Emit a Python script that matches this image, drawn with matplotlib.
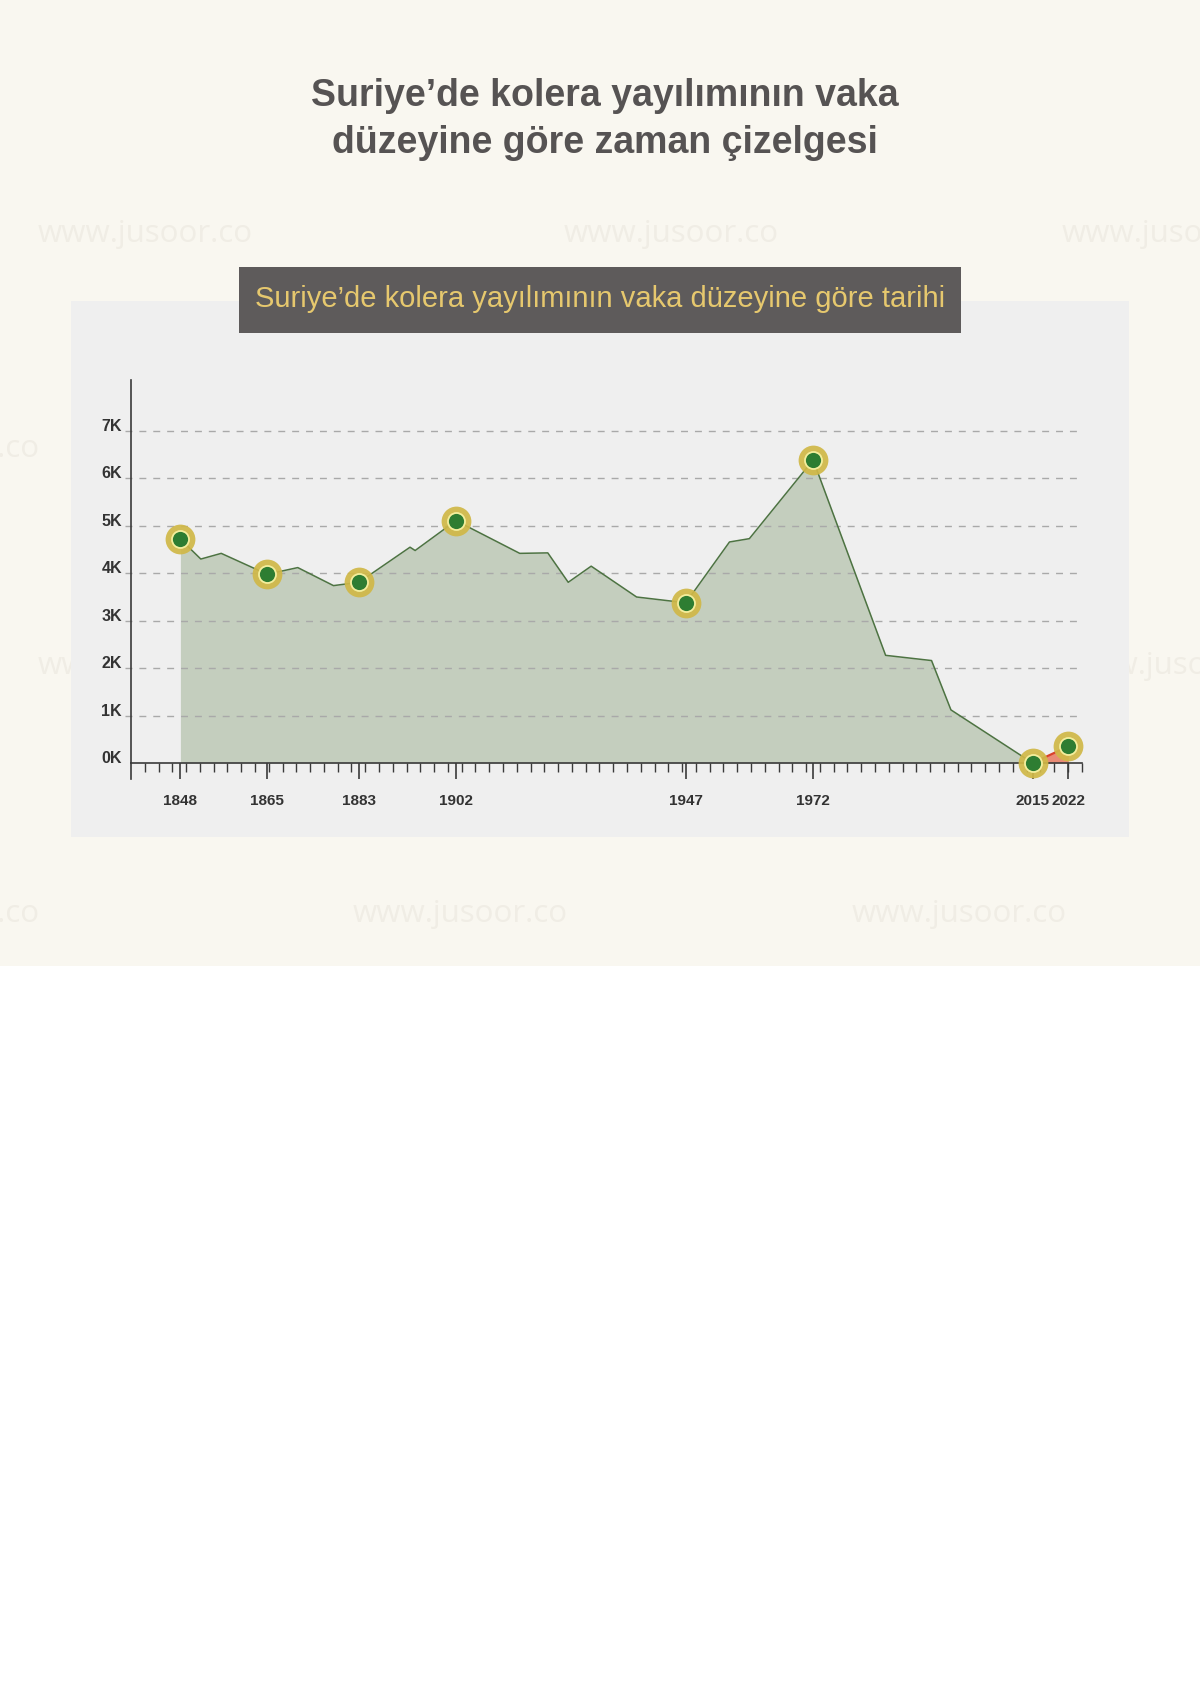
import numpy as np
import matplotlib
matplotlib.use("Agg")
import matplotlib.pyplot as plt
from matplotlib.patches import Rectangle

plt.rcParams['font.family'] = ['Liberation Sans', 'DejaVu Sans']

# ---------------- data ----------------
title = "Suriye’de kolera yayılımının vaka\ndüzeyine göre zaman çizelgesi"
subtitle = "Suriye’de kolera yayılımının vaka düzeyine göre tarihi"

hist_years = [1848, 1852, 1856, 1865, 1871, 1878, 1883, 1893, 1894, 1902,
              1914.5, 1920, 1924, 1928.5, 1937.4, 1945.3, 1947, 1955.6,
              1959.5, 1972, 1986.2, 1995.2, 1999, 2015]
hist_values = [4720, 4300, 4420, 3980, 4120, 3740, 3810, 4550, 4480, 5110,
               4420, 4430, 3810, 4150, 3500, 3400, 3370, 4660,
               4730, 6390, 2270, 2160, 1120, 0]

recent_years = [2015, 2022]
recent_values = [0, 350]

marker_years = [1848, 1865, 1883, 1902, 1947, 1972, 2015, 2022]
marker_values = [4720, 3980, 3810, 5110, 3370, 6390, 0, 350]

xtick_years = [1848, 1865, 1883, 1902, 1947, 1972, 2015, 2022]
xtick_labels = ["1848", "1865", "1883", "1902", "1947", "1972", "2015", "2022"]
ytick_values = [0, 1000, 2000, 3000, 4000, 5000, 6000, 7000]
ytick_labels = ["0K", "1K", "2K", "3K", "4K", "5K", "6K", "7K"]

watermark = "www.jusoor.co"

# ---------------- figure ----------------
W, H = 1200, 1697
fig = plt.figure(figsize=(W / 100, H / 100), dpi=100)
fig.patch.set_facecolor('white')


def fx(x):
    return x / W


def fy(y):
    return 1 - y / H


def rect(x0, y0, x1, y1, color, z):
    fig.patches.append(Rectangle((fx(x0), fy(y1)), fx(x1) - fx(x0), fy(y0) - fy(y1),
                                 transform=fig.transFigure, facecolor=color,
                                 edgecolor='none', zorder=z))


# cream background
rect(0, 0, W, 966, '#f9f7f0', 0)

# watermarks (very faint, partly hidden behind the chart panel)
wm_color = '#f0ede5'
for row_y, xs in [(234, [38, 564, 1062]), (449, [-175, 353, 852]),
                  (666, [38, 564, 1066]), (914, [-175, 353, 852])]:
    for x in xs:
        fig.text(fx(x), fy(row_y), watermark, fontsize=22.5, color=wm_color,
                 family=['Open Sans', 'DejaVu Sans'], ha='left', va='center', zorder=0.5)

# gray panel
rect(71, 301, 1129, 837, '#efefef', 1)
# dark subtitle box
rect(239, 267, 961, 333, '#5e5b5b', 2)

fig.text(0.5 + 5 / W, fy(119.5), title, fontsize=27, fontweight='bold', color='#565353',
         ha='center', va='center', linespacing=1.42, zorder=3)
fig.text(fx(600), fy(299), subtitle, fontsize=21, color='#e6c86e',
         ha='center', va='center', zorder=3)

# ---------------- axes ----------------
ax_l, ax_r, ax_t, ax_b = 131, 1082, 380, 763
ax = fig.add_axes([fx(ax_l), fy(ax_b), fx(ax_r) - fx(ax_l), fy(ax_t) - fy(ax_b)])
ax.set_zorder(3)
ax.patch.set_visible(False)

px_per_year = 5.103
x0 = 1848 - (180.4 - ax_l) / px_per_year
x1 = 2022 + (ax_r - 1068.3) / px_per_year
px_per_unit = 47.43 / 1000
ax.set_xlim(x0, x1)
ax.set_ylim(0, (ax_b - ax_t) / px_per_unit)

# area + line
ax.fill_between(hist_years, hist_values, 0, color='#c4cebe', zorder=1, linewidth=0)
ax.fill_between(recent_years, recent_values, 0, color='#e97a60', alpha=0.85,
                zorder=1, linewidth=0)

# gridlines
ax.hlines(ytick_values[1:], x0 - 6 / px_per_year, x1, colors='#a9a9a9',
          linestyles=(0, (5, 5)), linewidth=1, zorder=2, clip_on=False)

ax.plot(hist_years, hist_values, color='#4d7342', linewidth=1.1, zorder=4)
ax.plot(recent_years, recent_values, color='#d9412a', linewidth=1.6, zorder=4)

# markers
ax.scatter(marker_years, marker_values, s=460, color='#d0b847', alpha=0.92,
           linewidths=0, zorder=5, clip_on=False)
ax.scatter(marker_years, marker_values, s=150, color='#2e7d32',
           edgecolors='#f3ee9c', linewidths=1.3, zorder=6, clip_on=False)

# spines
for s in ['top', 'right']:
    ax.spines[s].set_visible(False)
for s in ['left', 'bottom']:
    ax.spines[s].set_color('#3a3a3a')
    ax.spines[s].set_linewidth(1.2)
ax.spines['bottom'].set_zorder(3)

# left axis extension below baseline
ax.plot([x0, x0], [0, -16 / px_per_unit], color='#3a3a3a', linewidth=1.2,
        clip_on=False, zorder=3)

# x ticks
ax.set_xticks(xtick_years)
ax.set_xticklabels(xtick_labels, fontsize=11, fontweight='bold', color='#333333')
ax.set_xticks(np.arange(x0 + 2.7, x1, 2.7), minor=True)
ax.tick_params(axis='x', which='major', length=11.5, width=1.2, color='#3a3a3a', pad=10.5)
ax.tick_params(axis='x', which='minor', length=6.5, width=1.0, color='#3a3a3a')

# y ticks
ax.set_yticks(ytick_values)
ax.set_yticklabels(ytick_labels, fontsize=11.5, fontweight='bold', color='#333333')
ax.tick_params(axis='y', which='both', length=0, pad=6.5)
for lbl in ax.get_yticklabels():
    lbl.set_va('baseline')

fig.savefig('out.png', dpi=100, facecolor=fig.get_facecolor())
